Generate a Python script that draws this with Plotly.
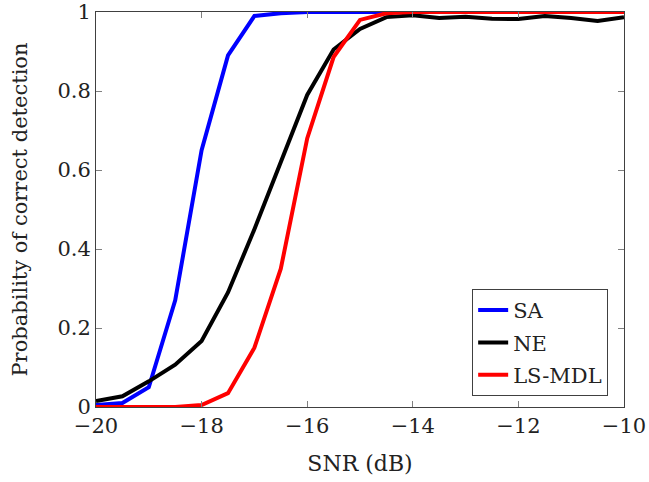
import plotly.graph_objects as go

# SNR grid (dB)
snr = [-20, -19.5, -19, -18.5, -18, -17.5, -17, -16.5, -16, -15.5, -15,
       -14.5, -14, -13.5, -13, -12.5, -12, -11.5, -11, -10.5, -10]

# Probability of correct detection per method
sa = [0.005, 0.01, 0.05, 0.27, 0.65, 0.89, 0.99, 0.997, 1, 1, 1,
      1, 1, 1, 1, 1, 1, 1, 1, 1, 1]
ne = [0.015, 0.027, 0.065, 0.107, 0.167, 0.29, 0.45, 0.62, 0.79, 0.905, 0.957,
      0.987, 0.992, 0.985, 0.988, 0.983, 0.982, 0.99, 0.985, 0.977, 0.987]
ls_mdl = [0, 0, 0, 0, 0.005, 0.035, 0.15, 0.35, 0.68, 0.886, 0.98,
          0.997, 1, 1, 1, 1, 1, 1, 1, 1, 1]

series = [("SA", sa, "#0000ff"), ("NE", ne, "#000000"), ("LS-MDL", ls_mdl, "#ff0000")]

FONT = "DejaVu Serif"
TXT = "#222"

fig = go.Figure()
for i, (name, vals, color) in enumerate(series):
    fig.add_trace(go.Scatter(
        x=snr, y=vals, mode="lines", name=name,
        line={"color": color, "width": 4},
        legendgroup=f"g{i}",
    ))

axis_common = dict(
    showline=True, linecolor="#404040", linewidth=1, mirror="ticks",
    ticks="inside", ticklen=6, tickcolor="#808080", tickwidth=1,
    showgrid=False, zeroline=False, automargin=False,
    ticklabeloverflow="allow",
    tickfont={"size": 21, "family": FONT, "color": TXT},
)

fig.update_xaxes(
    range=[-20, -10], tickvals=[-20, -18, -16, -14, -12, -10],
    title={"text": "SNR (dB)", "font": {"size": 22, "family": FONT, "color": TXT}, "standoff": 18},
    **axis_common,
)
fig.update_yaxes(
    range=[0, 1], tickvals=[0, 0.2, 0.4, 0.6, 0.8, 1],
    title={"text": "Probability of correct detection", "font": {"size": 21, "family": FONT, "color": TXT}, "standoff": 24},
    **axis_common,
)

fig.update_layout(
    width=649, height=482,
    margin={"l": 96, "r": 25, "t": 12, "b": 75},
    paper_bgcolor="white", plot_bgcolor="white",
    legend={
        "x": 0.97, "y": 0.028, "xanchor": "right", "yanchor": "bottom",
        "bgcolor": "white", "bordercolor": "#404040", "borderwidth": 1,
        "font": {"size": 21, "family": FONT, "color": TXT},
        "traceorder": "grouped", "tracegroupgap": 2,
    },
)

# drop the default body margin so the figure sits at the window's corner
fig.write_html("out.html", config={"displayModeBar": False},
               post_script="document.body.style.margin='0';")
